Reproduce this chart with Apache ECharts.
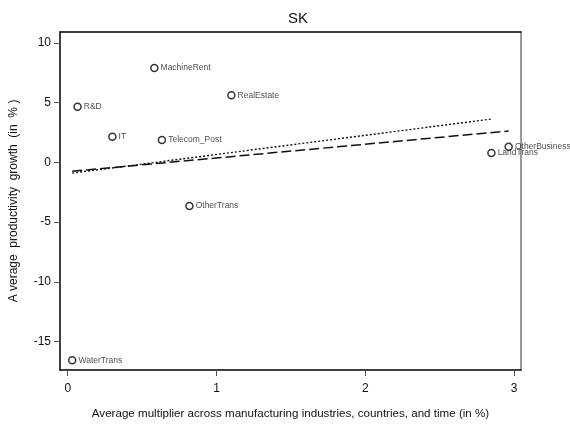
<!DOCTYPE html>
<html>
<head>
<meta charset="utf-8">
<script src="https://cdn.jsdelivr.net/npm/echarts@6/dist/echarts.min.js"></script>
<style>
  html, body { margin: 0; padding: 0; background: #fff; }
  #chart { width: 570px; height: 427px; }
</style>
</head>
<body>
<div id="chart"></div>
<script>
// Industries: average multiplier (x) vs. average productivity growth (y)
const industries = ['MachineRent', 'RealEstate', 'R&D', 'IT', 'Telecom_Post', 'OtherTrans', 'WaterTrans', 'OtherBusiness', 'LandTrans'];
const multiplier = [0.582, 1.10, 0.066, 0.30, 0.633, 0.818, 0.030, 2.964, 2.848];
const growth = [7.88, 5.60, 4.65, 2.14, 1.86, -3.65, -16.56, 1.30, 0.78];

// Fitted lines (endpoints of each fit over its sample range)
const fitAllX = [0.030, 2.964];
const fitAllY = [-0.75, 2.62];
const fitSubX = [0.030, 2.848];
const fitSubY = [-0.90, 3.62];

const xTicks = [0, 1, 2, 3];
const yTicks = [-15, -10, -5, 0, 5, 10];

const FONT = "'Liberation Sans Narrow', 'Liberation Sans', Arial, sans-serif";

const points = industries.map((name, i) => ({ name: name, value: [multiplier[i], growth[i]] }));

const chart = echarts.init(document.getElementById('chart'), null, { renderer: 'canvas' });
chart.setOption({
  animation: false,
  backgroundColor: '#ffffff',
  title: {
    text: 'SK',
    left: 293, top: 6, textAlign: 'center',
    textStyle: { fontFamily: FONT, fontSize: 15, fontWeight: 'normal', color: '#111' }
  },
  grid: { left: 59, right: 49, top: 32, bottom: 57 },
  xAxis: [{
    type: 'value', min: -0.052, max: 3.047,
    position: 'bottom',
    name: 'Average multiplier across manufacturing industries, countries, and time (in %)',
    nameLocation: 'middle', nameGap: 38,
    nameTextStyle: { fontFamily: FONT, fontSize: 11.6, color: '#111' },
    axisLine: { show: true, onZero: false, lineStyle: { color: '#000', width: 1.5 } },
    axisTick: { show: true, length: 6, customValues: xTicks, lineStyle: { color: '#555' } },
    axisLabel: { customValues: xTicks, margin: 13, fontFamily: FONT, fontSize: 12, color: '#111' },
    splitLine: { show: false }
  }, {
    type: 'value', min: -0.052, max: 3.047, position: 'top',
    axisLine: { show: true, onZero: false, lineStyle: { color: '#000', width: 1.5 } },
    axisTick: { show: false }, axisLabel: { show: false }, splitLine: { show: false }
  }],
  yAxis: [{
    type: 'value', min: -17.37, max: 10.9,
    position: 'left',
    name: 'A verage  productivity  growth  (in  % )',
    nameLocation: 'middle', nameGap: 40, nameRotate: 90,
    nameTextStyle: { fontFamily: FONT, fontSize: 12, color: '#111' },
    axisLine: { show: true, onZero: false, lineStyle: { color: '#000', width: 1.5 } },
    axisTick: { show: true, length: 6, customValues: yTicks, lineStyle: { color: '#555' } },
    axisLabel: { customValues: yTicks, margin: 9, fontFamily: FONT, fontSize: 12, color: '#111' },
    splitLine: { show: false }
  }, {
    type: 'value', min: -17.37, max: 10.9, position: 'right',
    axisLine: { show: true, onZero: false, lineStyle: { color: '#777', width: 1.5 } },
    axisTick: { show: false }, axisLabel: { show: false }, splitLine: { show: false }
  }],
  series: [{
    type: 'line',
    data: fitAllX.map((x, i) => [x, fitAllY[i]]),
    symbol: 'none',
    lineStyle: { color: '#111', width: 1.5, type: [10, 4] },
    z: 2
  }, {
    type: 'line',
    data: fitSubX.map((x, i) => [x, fitSubY[i]]),
    symbol: 'none',
    lineStyle: { color: '#111', width: 1.4, type: [2, 2] },
    z: 2
  }, {
    type: 'scatter',
    data: points,
    symbol: 'circle', symbolSize: 7,
    itemStyle: { color: '#fff', borderColor: '#000', borderWidth: 1.5 },
    label: {
      show: true, position: 'right', distance: 2,
      formatter: p => p.name,
      fontFamily: FONT, fontSize: 8.5, color: '#222'
    },
    z: 3
  }]
});
</script>
</body>
</html>
